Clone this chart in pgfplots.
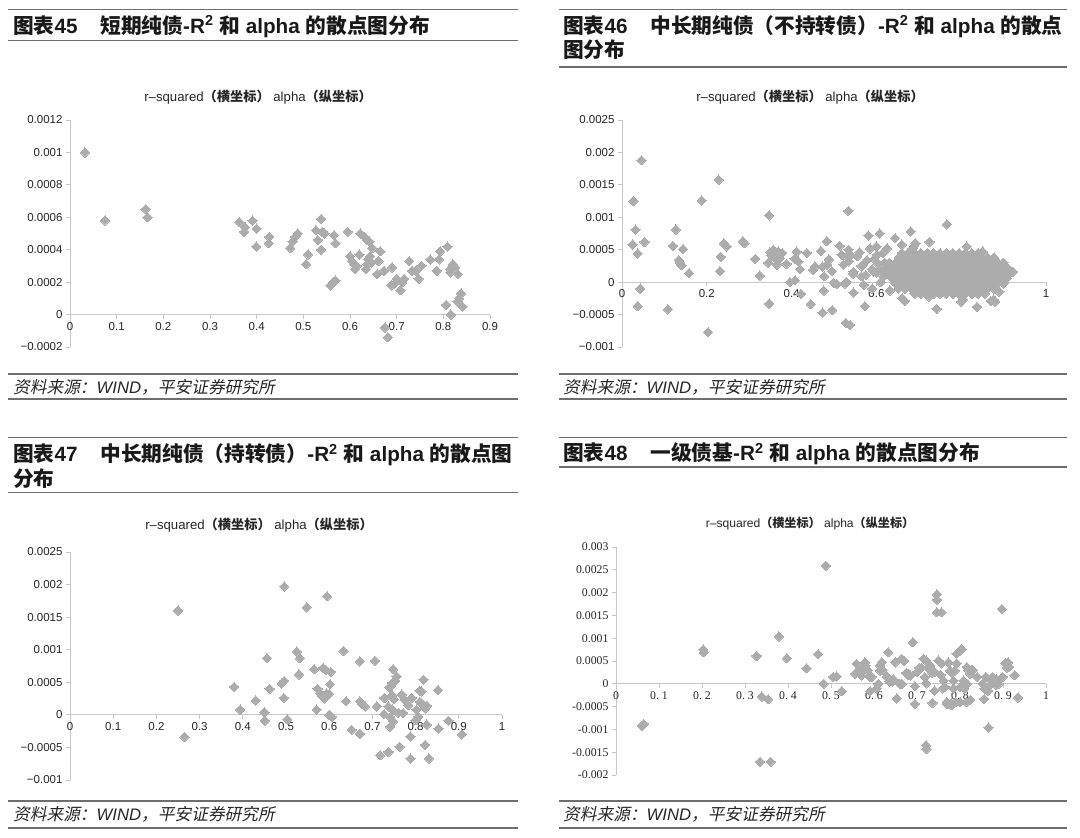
\documentclass[border=0pt]{standalone}
\usepackage{fontspec}
\setmainfont{Liberation Sans}
\newfontfamily\cjk{Noto Sans CJK SC}
\newfontfamily\cjkit{Noto Sans CJK SC}[FakeSlant=0.2]
\newfontfamily\lserif{Liberation Serif}
\usepackage{pgfplots}
\pgfplotsset{compat=1.18}
\definecolor{mk}{RGB}{172,172,172}
\definecolor{axl}{RGB}{200,200,200}
\definecolor{rulec}{RGB}{110,110,110}
\pgfplotsset{
  panel/.style={scale only axis, clip=false, anchor=south west,
    axis x line=middle, axis y line=left,
    axis line style={-, draw=axl, line width=0.9pt},
    every inner x axis line/.append style={-},
    every outer x axis line/.append style={-},
    every inner y axis line/.append style={-},
    every outer y axis line/.append style={-},
    tick style={draw=axl, line width=0.9pt},
    major tick length=4pt, tick align=outside,
    scaled x ticks=false, scaled y ticks=false,
    tick label style={font=\fontsize{11.5}{12}\selectfont, text=black!85}},
  mk/.style={only marks, mark=square*, mark size=3.3pt,
    mark options={rotate=45, fill=mk, draw=mk, line width=0pt}}
}
\newcommand{\T}[1]{{\cjk #1}}
\begin{document}
\begin{tikzpicture}
\useasboundingbox (0pt,0pt) rectangle (1080pt,838pt);
% ---------- rules ----------
\begin{scope}[rulec, line width=1.1pt]
\draw (8pt,828.5pt) -- (518pt,828.5pt);
\draw (8pt,797.5pt) -- (518pt,797.5pt);
\draw (8pt,464pt) -- (518pt,464pt);
\draw (8pt,439pt) -- (518pt,439pt);
\draw (559pt,828.5pt) -- (1067pt,828.5pt);
\draw (559pt,771pt) -- (1067pt,771pt);
\draw (559pt,464pt) -- (1067pt,464pt);
\draw (559pt,439pt) -- (1067pt,439pt);
\draw (8pt,400.7pt) -- (518pt,400.7pt);
\draw (8pt,345.3pt) -- (518pt,345.3pt);
\draw (8pt,37pt) -- (518pt,37pt);
\draw (8pt,10pt) -- (518pt,10pt);
\draw (559pt,400.7pt) -- (1067pt,400.7pt);
\draw (559pt,371pt) -- (1067pt,371pt);
\draw (559pt,37pt) -- (1067pt,37pt);
\draw (559pt,10pt) -- (1067pt,10pt);
\end{scope}
% ---------- titles ----------
\begin{scope}[every node/.style={anchor=base west, inner sep=0pt, font=\fontsize{20.7}{24}\selectfont\bfseries, text=black!90}]
\node at (13pt,804.7pt) {\T{图表}45\hspace{1.1em}\T{短期纯债}-R\textsuperscript{2} \T{和} alpha \T{的散点图分布}};
\node at (563pt,804.7pt) {\T{图表}46\hspace{1.1em}\T{中长期纯债（不持转债）}-R\textsuperscript{2} \T{和} alpha \T{的散点}};
\node at (563pt,780pt) {\T{图分布}};
\node at (13pt,376.4pt) {\T{图表}47\hspace{1.1em}\T{中长期纯债（持转债）}-R\textsuperscript{2} \T{和} alpha \T{的散点图}};
\node at (13pt,351.9pt) {\T{分布}};
\node at (563pt,377.4pt) {\T{图表}48\hspace{1.1em}\T{一级债基}-R\textsuperscript{2} \T{和} alpha \T{的散点图分布}};
\end{scope}
% ---------- sources ----------
\begin{scope}[every node/.style={anchor=base west, inner sep=0pt, font=\fontsize{16.7}{18}\selectfont, text=black!85}]
\node at (13pt,444.7pt) {{\cjkit 资料来源：}\textit{WIND}{\cjkit ，平安证券研究所}};
\node at (563pt,444.7pt) {{\cjkit 资料来源：}\textit{WIND}{\cjkit ，平安证券研究所}};
\node at (13pt,17.7pt) {{\cjkit 资料来源：}\textit{WIND}{\cjkit ，平安证券研究所}};
\node at (563pt,17.7pt) {{\cjkit 资料来源：}\textit{WIND}{\cjkit ，平安证券研究所}};
\end{scope}
% ---------- subtitles ----------
\begin{scope}[every node/.style={inner sep=0pt, font=\fontsize{13.2}{15}\selectfont, text=black!85}]
\node at (258pt,741pt) {r–squared{\cjk\bfseries （横坐标）} alpha{\cjk\bfseries （纵坐标）}};
\node at (810pt,741pt) {r–squared{\cjk\bfseries （横坐标）} alpha{\cjk\bfseries （纵坐标）}};
\node at (259pt,313pt) {r–squared{\cjk\bfseries （横坐标）} alpha{\cjk\bfseries （纵坐标）}};
\node[font=\fontsize{12.1}{14}\selectfont] at (810pt,314pt) {r–squared{\cjk\bfseries （横坐标）} alpha{\cjk\bfseries （纵坐标）}};
\end{scope}
% ================= Panel 45 =================
\begin{axis}[panel, at={(70pt,491pt)}, width=420pt, height=227pt,
  xmin=-0.00001, xmax=0.9, ymin=-0.0002, ymax=0.0012,
  xtick={0,0.1,0.2,0.3,0.4,0.5,0.6,0.7,0.8,0.9},
  xticklabels={0,0.1,0.2,0.3,0.4,0.5,0.6,0.7,0.8,0.9},
  ytick={-0.0002,0,0.0002,0.0004,0.0006,0.0008,0.001,0.0012},
  yticklabels={−0.0002,0,0.0002,0.0004,0.0006,0.0008,0.001,0.0012}]
\addplot[mk] coordinates {
(0.032,0.00100)(0.075,0.00058)(0.162,0.00065)(0.166,0.00060)(0.363,0.00057)
(0.375,0.00054)(0.373,0.00051)(0.391,0.00058)(0.400,0.00053)(0.399,0.00042)
(0.427,0.00048)(0.426,0.00044)(0.472,0.00041)(0.477,0.00045)(0.483,0.00048)
(0.488,0.00050)(0.506,0.00031)(0.510,0.00037)(0.527,0.00052)(0.531,0.00046)
(0.538,0.00059)(0.541,0.00051)(0.546,0.00050)(0.538,0.00040)(0.558,0.00018)
(0.564,0.00020)(0.569,0.00021)(0.566,0.00049)(0.569,0.00044)(0.595,0.00051)
(0.600,0.00036)(0.604,0.00033)(0.609,0.00031)(0.611,0.00028)(0.614,0.00030)
(0.620,0.00037)(0.622,0.00050)(0.631,0.00048)(0.637,0.00046)(0.642,0.00045)
(0.637,0.00031)(0.634,0.00028)(0.643,0.00036)(0.646,0.00032)(0.648,0.00041)
(0.658,0.00025)(0.661,0.00033)(0.665,0.00039)(0.673,0.00027)(0.675,-0.00008)
(0.681,-0.00014)(0.688,0.00018)(0.690,0.00029)(0.695,0.00019)(0.700,0.00022)
(0.708,0.00015)(0.712,0.00020)(0.716,0.00022)(0.727,0.00033)(0.733,0.00027)
(0.741,0.00027)(0.747,0.00022)(0.753,0.00030)(0.772,0.00034)(0.786,0.00027)
(0.791,0.00034)(0.793,0.00039)(0.809,0.00042)(0.806,0.00006)(0.816,0.00000)
(0.814,0.00028)(0.815,0.00026)(0.820,0.00031)(0.825,0.00029)(0.831,0.00025)
(0.830,0.00008)(0.834,0.00010)(0.838,0.00013)(0.841,0.00005)(0.639,0.00034)
};
\end{axis}
% ================= Panel 46 =================
\begin{axis}[panel, at={(622pt,491pt)}, width=424pt, height=227pt,
  xmin=-0.00001, xmax=1, ymin=-0.001, ymax=0.0025,
  xtick={0,0.2,0.4,0.6,0.8,1}, xticklabels={0,0.2,0.4,0.6,0.8,1},
  ytick={-0.001,-0.0005,0,0.0005,0.001,0.0015,0.002,0.0025},
  yticklabels={−0.001,−0.0005,0,0.0005,0.001,0.0015,0.002,0.0025}]
\addplot[mk] coordinates {
(0.027,0.00125)(0.032,0.00081)(0.025,0.00058)(0.037,0.00044)(0.046,0.00188)
(0.053,0.00062)(0.043,-0.00010)(0.037,-0.00037)(0.108,-0.00042)(0.120,0.00056)
(0.127,0.00081)(0.134,0.00034)(0.137,0.00030)(0.140,0.00026)(0.144,0.00051)
(0.158,0.00014)(0.188,0.00126)(0.203,-0.00077)(0.228,0.00158)(0.233,0.00039)
(0.231,0.00017)(0.240,0.00060)(0.247,0.00055)(0.285,0.00063)(0.289,0.00060)
(0.314,0.00036)(0.325,0.00010)(0.347,0.00103)(0.347,-0.00033)(0.345,0.00030)
(0.349,0.00046)(0.357,0.00050)(0.360,0.00043)(0.365,0.00027)(0.368,0.00047)
(0.372,0.00037)(0.378,0.00045)(0.388,0.00028)(0.396,0.00000)(0.408,0.00003)
(0.412,0.00047)(0.407,0.00036)(0.416,0.00032)(0.420,0.00020)(0.422,-0.00018)
(0.436,0.00045)(0.445,-0.00034)(0.451,0.00019)(0.455,0.00024)(0.469,0.00048)
(0.483,0.00063)(0.476,-0.00013)(0.473,-0.00047)(0.496,-0.00043)(0.473,0.00024)
(0.477,0.00009)(0.484,0.00027)(0.488,0.00035)(0.495,0.00017)(0.499,-0.00001)
(0.507,-0.00003)(0.513,0.00056)(0.518,0.00042)(0.522,0.00027)(0.530,0.00000)
(0.528,-0.00063)(0.534,0.00110)(0.534,0.00050)(0.352,0.00041)(0.363,0.00036)
(0.526,-0.00002)(0.530,0.00040)(0.535,0.00032)(0.546,0.00016)(0.565,0.00009)
(0.569,0.00027)(0.593,0.00016)(0.601,0.00042)(0.617,0.00009)(0.546,-0.00016)
(0.573,-0.00037)(0.538,-0.00066)(0.555,0.00040)(0.560,0.00046)(0.565,0.00025)
(0.570,-0.00004)(0.575,0.00011)(0.578,0.00034)(0.585,0.00052)(0.590,0.00020)
(0.595,0.00036)(0.600,0.00055)(0.605,0.00028)(0.610,0.00000)(0.590,-0.00010)
(0.600,0.00015)(0.615,0.00045)(0.581,0.00072)(0.608,0.00075)(0.625,0.00052)
(0.644,0.00068)(0.660,0.00058)(0.681,0.00078)(0.688,0.00055)(0.725,0.00062)
(0.766,0.00089)(0.813,0.00055)(0.852,0.00046)(0.899,0.00030)(0.632,-0.00013)
(0.667,-0.00029)(0.742,-0.00041)(0.837,-0.00038)(0.876,-0.00027)(0.690,-0.00011)
(0.800,-0.00030)(0.661,-0.00025)(0.724,-0.00022)(0.804,-0.00027)(0.870,-0.00029)
(0.880,-0.00030)(0.890,-0.00015)(0.692,0.00060)(0.685,0.00052)(0.780,0.00045)
(0.850,0.00047)(0.880,0.00035)(0.903,0.00022)(0.922,0.00016)(0.912,0.00020)
(0.905,0.00012)(0.540,0.00042)(0.545,0.00013)(0.620,0.00030)(0.612,0.00018)
};
\addplot[mk] coordinates {
(0.660,0.00045)(0.675,0.00045)(0.690,0.00045)(0.705,0.00045)(0.720,0.00045)
(0.735,0.00045)(0.750,0.00045)(0.765,0.00045)(0.780,0.00045)(0.795,0.00045)
(0.810,0.00045)(0.825,0.00045)(0.840,0.00045)
(0.6525,0.00038)(0.6675,0.00038)(0.6825,0.00038)(0.6975,0.00038)(0.7125,0.00038)
(0.7275,0.00038)(0.7425,0.00038)(0.7575,0.00038)(0.7725,0.00038)(0.7875,0.00038)
(0.8025,0.00038)(0.8175,0.00038)(0.8325,0.00038)(0.8475,0.00038)(0.8625,0.00038)
(0.8775,0.00038)
(0.630,0.00030)(0.645,0.00030)(0.660,0.00030)(0.675,0.00030)(0.690,0.00030)
(0.705,0.00030)(0.720,0.00030)(0.735,0.00030)(0.750,0.00030)(0.765,0.00030)
(0.780,0.00030)(0.795,0.00030)(0.810,0.00030)(0.825,0.00030)(0.840,0.00030)
(0.855,0.00030)(0.870,0.00030)(0.885,0.00030)(0.900,0.00030)
(0.6225,0.00022)(0.6375,0.00022)(0.6525,0.00022)(0.6675,0.00022)(0.6825,0.00022)
(0.6975,0.00022)(0.7125,0.00022)(0.7275,0.00022)(0.7425,0.00022)(0.7575,0.00022)
(0.7725,0.00022)(0.7875,0.00022)(0.8025,0.00022)(0.8175,0.00022)(0.8325,0.00022)
(0.8475,0.00022)(0.8625,0.00022)(0.8775,0.00022)(0.8925,0.00022)(0.9075,0.00022)
(0.630,0.00014)(0.645,0.00014)(0.660,0.00014)(0.675,0.00014)(0.690,0.00014)
(0.705,0.00014)(0.720,0.00014)(0.735,0.00014)(0.750,0.00014)(0.765,0.00014)
(0.780,0.00014)(0.795,0.00014)(0.810,0.00014)(0.825,0.00014)(0.840,0.00014)
(0.855,0.00014)(0.870,0.00014)(0.885,0.00014)(0.900,0.00014)(0.915,0.00014)
(0.6375,0.00006)(0.6525,0.00006)(0.6675,0.00006)(0.6825,0.00006)(0.6975,0.00006)
(0.7125,0.00006)(0.7275,0.00006)(0.7425,0.00006)(0.7575,0.00006)(0.7725,0.00006)
(0.7875,0.00006)(0.8025,0.00006)(0.8175,0.00006)(0.8325,0.00006)(0.8475,0.00006)
(0.8625,0.00006)(0.8775,0.00006)(0.8925,0.00006)(0.9075,0.00006)
(0.645,-0.00002)(0.660,-0.00002)(0.675,-0.00002)(0.690,-0.00002)(0.705,-0.00002)
(0.720,-0.00002)(0.735,-0.00002)(0.750,-0.00002)(0.765,-0.00002)(0.780,-0.00002)
(0.795,-0.00002)(0.810,-0.00002)(0.825,-0.00002)(0.840,-0.00002)(0.855,-0.00002)
(0.870,-0.00002)(0.885,-0.00002)(0.900,-0.00002)
(0.6525,-0.00010)(0.6675,-0.00010)(0.6825,-0.00010)(0.6975,-0.00010)(0.7125,-0.00010)
(0.7275,-0.00010)(0.7425,-0.00010)(0.7575,-0.00010)(0.7725,-0.00010)(0.7875,-0.00010)
(0.8025,-0.00010)(0.8175,-0.00010)(0.8325,-0.00010)(0.8475,-0.00010)(0.8625,-0.00010)
(0.8775,-0.00010)
(0.690,-0.00018)(0.705,-0.00018)(0.720,-0.00018)(0.735,-0.00018)(0.750,-0.00018)
(0.765,-0.00018)(0.780,-0.00018)(0.795,-0.00018)(0.810,-0.00018)(0.825,-0.00018)
(0.840,-0.00018)(0.855,-0.00018)
};
\end{axis}
% ================= Panel 47 =================
\begin{axis}[panel, at={(70pt,58pt)}, width=432pt, height=228pt,
  xmin=-0.00001, xmax=1, ymin=-0.001, ymax=0.0025,
  xtick={0,0.1,0.2,0.3,0.4,0.5,0.6,0.7,0.8,0.9,1},
  xticklabels={0,0.1,0.2,0.3,0.4,0.5,0.6,0.7,0.8,0.9,1},
  ytick={-0.001,-0.0005,0,0.0005,0.001,0.0015,0.002,0.0025},
  yticklabels={−0.001,−0.0005,0,0.0005,0.001,0.0015,0.002,0.0025}]
\addplot[mk] coordinates {
(0.250,0.00160)(0.265,-0.00034)(0.380,0.00043)(0.394,0.00008)(0.430,0.00022)
(0.450,0.00004)(0.451,-0.00009)(0.456,0.00087)(0.462,0.00040)(0.490,0.00048)
(0.496,0.00052)(0.495,0.00026)(0.496,0.00197)(0.503,-0.00007)(0.525,0.00097)
(0.532,0.00087)(0.530,0.00062)(0.548,0.00165)(0.565,0.00070)(0.571,0.00008)
(0.573,0.00040)(0.579,0.00033)(0.583,0.00030)(0.586,0.00072)(0.592,0.00069)
(0.589,0.00025)(0.595,0.00182)(0.594,0.00033)(0.600,0.00032)(0.602,0.00047)
(0.604,0.00066)(0.600,0.00000)(0.606,-0.00003)(0.586,0.00028)(0.633,0.00098)
(0.639,0.00021)(0.652,-0.00023)(0.671,0.00082)(0.671,0.00021)(0.676,0.00017)
(0.683,0.00013)(0.671,-0.00029)(0.706,0.00083)(0.710,0.00013)(0.718,-0.00062)
(0.728,0.00026)(0.727,0.00001)(0.737,-0.00057)(0.739,0.00042)(0.741,-0.00018)
(0.737,0.00013)(0.746,0.00030)(0.747,0.00008)(0.741,-0.00003)(0.748,-0.00010)
(0.748,0.00070)(0.750,0.00024)(0.752,0.00052)(0.756,0.00059)(0.760,0.00003)
(0.763,-0.00049)(0.768,0.00031)(0.771,0.00003)(0.775,0.00023)(0.783,0.00015)
(0.788,-0.00033)(0.791,0.00026)(0.788,-0.00067)(0.800,-0.00008)(0.802,0.00008)
(0.806,-0.00003)(0.810,0.00020)(0.809,0.00037)(0.814,0.00036)(0.818,0.00015)
(0.822,0.00010)(0.818,0.00054)(0.826,0.00014)(0.822,-0.00046)(0.826,-0.00015)
(0.831,-0.00067)(0.852,0.00038)(0.853,-0.00021)(0.876,-0.00009)(0.907,-0.00030)
(0.746,0.00049)(0.742,0.00044)
};
\end{axis}
% ================= Panel 48 =================
\begin{axis}[panel, at={(616pt,63pt)}, width=430pt, height=228pt,
  xmin=-0.00001, xmax=1, ymin=-0.002, ymax=0.003,
  tick label style={font=\lserif\fontsize{11.8}{12}\selectfont},
  xtick={0,0.1,0.2,0.3,0.4,0.5,0.6,0.7,0.8,0.9,1},
  xticklabels={0,0.\hspace{3pt}1,0.\hspace{3pt}2,0.\hspace{3pt}3,0.\hspace{3pt}4,0.\hspace{3pt}5,0.\hspace{3pt}6,0.\hspace{3pt}7,0.\hspace{3pt}8,0.\hspace{3pt}9,1},
  ytick={-0.002,-0.0015,-0.001,-0.0005,0,0.0005,0.001,0.0015,0.002,0.0025,0.003},
  yticklabels={-0.002,-0.0015,-0.001,-0.0005,0,0.0005,0.001,0.0015,0.002,0.0025,0.003}]
\addplot[mk] coordinates {
(0.060,-0.00092)(0.065,-0.00088)(0.203,0.00075)(0.204,0.00069)(0.327,0.00061)
(0.339,-0.00028)(0.354,-0.00034)(0.335,-0.00171)(0.360,-0.00171)(0.379,0.00104)
(0.397,0.00056)(0.443,0.00034)(0.470,0.00065)(0.488,0.00259)(0.483,0.00000)
(0.505,0.00015)(0.513,0.00016)(0.525,-0.00016)
(0.556,0.00022)(0.560,0.00044)(0.567,0.00033)(0.575,0.00029)(0.579,0.00047)
(0.571,0.00018)(0.595,0.00015)(0.591,-0.00016)(0.606,-0.00010)(0.610,0.00000)
(0.614,0.00029)(0.618,0.00047)(0.614,0.00040)(0.633,0.00069)(0.630,0.00016)
(0.636,0.00005)(0.643,0.00005)(0.653,-0.00032)(0.649,0.00047)(0.664,0.00055)
(0.670,0.00050)(0.660,0.00000)(0.675,0.00024)(0.679,0.00020)(0.690,0.00091)
(0.695,-0.00005)(0.695,-0.00044)(0.700,0.00026)(0.706,0.00033)(0.715,0.00055)
(0.721,0.00051)(0.718,0.00015)(0.721,0.00001)(0.721,-0.00135)(0.722,-0.00143)
(0.733,0.00033)(0.741,0.00026)(0.741,-0.00015)(0.736,-0.00042)(0.746,0.00196)
(0.747,0.00184)(0.746,0.00157)(0.757,0.00157)(0.750,0.00051)(0.757,0.00044)
(0.762,0.00007)(0.765,-0.00007)(0.769,-0.00040)(0.773,0.00047)(0.777,0.00029)
(0.781,-0.00047)(0.785,0.00007)(0.788,0.00029)(0.792,0.00066)(0.800,0.00073)
(0.804,0.00076)(0.792,0.00045)(0.800,-0.00007)(0.800,-0.00040)(0.808,0.00007)
(0.816,0.00000)(0.816,0.00037)(0.820,0.00030)(0.824,0.00022)(0.824,-0.00035)
(0.827,0.00029)(0.840,0.00015)(0.853,0.00000)(0.857,-0.00011)(0.856,-0.00033)
(0.866,-0.00096)(0.860,0.00015)(0.872,0.00000)(0.876,0.00015)(0.884,-0.00002)
(0.897,0.00164)(0.899,0.00015)(0.912,0.00047)(0.914,0.00037)(0.927,0.00019)
(0.935,-0.00030)(0.585,0.00030)(0.590,0.00015)(0.620,0.00030)(0.645,0.00010)
(0.665,0.00000)(0.680,0.00022)(0.685,0.00018)(0.705,0.00035)(0.710,0.00035)
(0.725,0.00035)(0.730,0.00040)(0.735,0.00025)(0.755,0.00020)(0.760,-0.00010)
(0.780,0.00025)(0.785,-0.00010)(0.810,-0.00010)(0.815,-0.00040)(0.830,0.00030)
(0.865,-0.00015)(0.870,0.00010)(0.885,0.00010)(0.890,0.00000)(0.905,0.00045)
(0.910,0.00035)(0.580,0.00040)(0.770,-0.00045)(0.780,-0.00043)(0.790,-0.00040)
};
\end{axis}
\end{tikzpicture}
\end{document}
